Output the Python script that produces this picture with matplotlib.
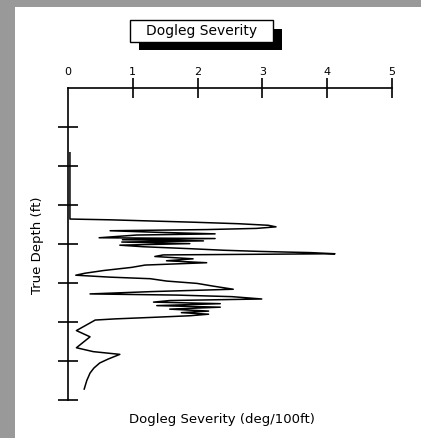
import matplotlib
matplotlib.use("Agg")
import matplotlib.pyplot as plt
from matplotlib.patches import Rectangle

# dogleg severity (deg/100ft) vs true depth (ft)
dogleg = [0.03, 0.03, 0.65, 1.91, 2.63, 3.09, 3.21, 2.91, 2.14, 0.65,
          1.37, 2.27, 1.06, 0.48, 2.27, 0.84, 2.09, 0.83, 1.88, 0.80,
          1.16, 1.88, 2.40, 2.96, 3.45, 3.73, 4.12, 1.47, 1.34, 1.93,
          1.52, 2.14, 1.19, 0.98, 0.55, 0.26, 0.12, 0.65, 1.27, 1.52,
          1.99, 2.24, 2.55, 1.30, 0.34, 1.68, 2.53, 2.99, 1.57, 1.32,
          2.35, 1.37, 2.35, 1.57, 2.17, 1.75, 2.17, 1.88, 1.32, 0.73,
          0.42, 0.13, 0.34, 0.13, 0.39, 0.80, 0.62, 0.49, 0.40, 0.34,
          0.29, 0.25]
depth = [1660, 3360, 3380, 3440, 3480, 3520, 3560, 3600, 3630, 3660,
         3700, 3740, 3770, 3840, 3860, 3890, 3920, 3950, 3990, 4030,
         4070, 4120, 4160, 4190, 4210, 4220, 4250, 4280, 4320, 4380,
         4430, 4480, 4540, 4600, 4680, 4750, 4800, 4850, 4890, 4950,
         5010, 5080, 5160, 5220, 5280, 5310, 5350, 5410, 5450, 5490,
         5530, 5580, 5620, 5670, 5720, 5760, 5800, 5840, 5880, 5920,
         5950, 6220, 6380, 6660, 6760, 6830, 6950, 7050, 7180, 7310,
         7500, 7720]

x_ticks = [0, 1, 2, 3, 4, 5]
y_ticks = [1000, 2000, 3000, 4000, 5000, 6000, 7000, 8000]

W, H = 421, 438
fig = plt.figure(figsize=(W / 100, H / 100), dpi=100, facecolor="#999999")


def px_rect(x0, y0, x1, y1, z, **kw):
    # rectangle given in image pixels (origin top-left)
    r = Rectangle((x0 / W, 1 - y1 / H), (x1 - x0) / W, (y1 - y0) / H,
                  transform=fig.transFigure, figure=fig, zorder=z, **kw)
    fig.patches.append(r)


px_rect(15, 7, W + 1, H + 1, -10, facecolor="white", edgecolor="none")
# title box with drop shadow
px_rect(139, 29, 282, 50, 5, facecolor="black", edgecolor="none")
px_rect(130, 20, 273, 42, 6, facecolor="white", edgecolor="black", lw=1.0)
fig.text((130 + 273) / 2 / W, 1 - 31.5 / H, "Dogleg Severity", ha="center",
         va="center", fontsize=10, zorder=7)

ax = fig.add_axes([68 / W, 1 - 400 / H, (392 - 68) / W, (400 - 88) / H])
ax.set_facecolor("none")
ax.plot(dogleg, depth, color="black", lw=1.1)
ax.set_xlim(0, 5)
ax.set_ylim(8000, 0)

ax.set_xticks(x_ticks)
ax.set_xticklabels([str(v) for v in x_ticks])
ax.set_yticks(y_ticks)
ax.set_yticklabels([])
ax.tick_params(axis="x", top=True, labeltop=True, bottom=False, labelbottom=False,
               direction="inout", length=14, width=1.2, labelsize=8, pad=1)
ax.tick_params(axis="y", left=True, right=False, direction="inout",
               length=14, width=1.2)
ax.xaxis.get_major_ticks()[0].tick2line.set_visible(False)

for side in ["right", "bottom"]:
    ax.spines[side].set_visible(False)
for side in ["top", "left"]:
    ax.spines[side].set_linewidth(1.2)

fig.text(38 / W, 1 - 245 / H, "True Depth (ft)", rotation=90, ha="center",
         va="center", fontsize=9.5)
fig.text(222 / W, 1 - 420 / H, "Dogleg Severity (deg/100ft)", ha="center",
         va="center", fontsize=9.5)

fig.savefig("out.png", dpi=100, facecolor=fig.get_facecolor())
